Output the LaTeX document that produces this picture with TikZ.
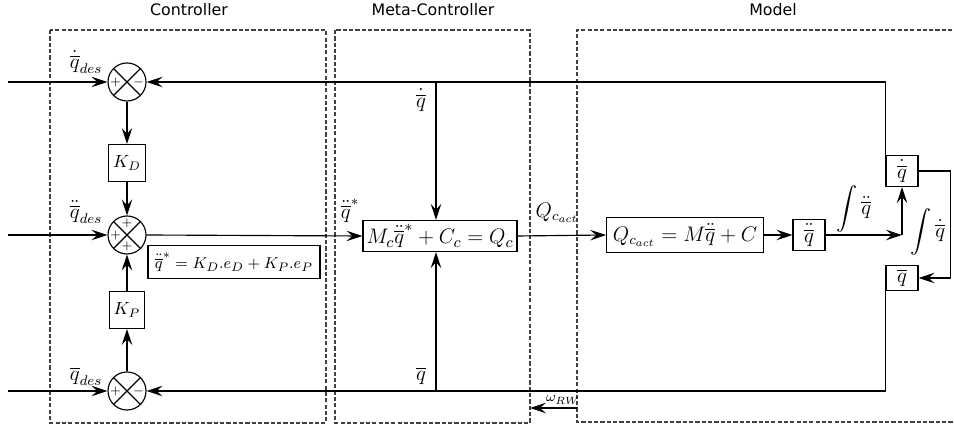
\documentclass[tikz,border=0pt]{standalone}
\usepackage{amsmath}
\usepackage{fontspec}
\setsansfont{DejaVu Sans}
\usetikzlibrary{positioning, arrows.meta, calc}
\tikzset{
  block/.style={rectangle, draw=black, line width=0.65pt, inner sep=2.5pt, text centered, font=\large},
  smallblock/.style={rectangle, draw=black, line width=0.65pt, minimum width=6.4mm, inner sep=2.5pt, font=\large},
  sumnode/.style={circle, draw=black, line width=0.65pt, minimum size=7.6mm, inner sep=0pt,
    path picture={\draw[line width=0.65pt] (path picture bounding box.north west) -- (path picture bounding box.south east)
      (path picture bounding box.north east) -- (path picture bounding box.south west);}},
  sign/.style={font=\fontsize{7}{7}\selectfont, inner sep=0pt},
  group/.style={draw=black!75, dash pattern=on 2.4pt off 1.2pt, line width=0.6pt},
  title/.style={font=\sffamily\fontsize{9}{11}\selectfont},
  lbl/.style={font=\large, inner sep=0pt},
  arrow/.style={line width=0.65pt, ->, >={Stealth[length=3.2mm, width=2.1mm, inset=1.2mm]}}
}

\begin{document}
\begin{tikzpicture}[x=0.2mm, y=-0.2mm]
    \useasboundingbox (0,0) rectangle (954,427);

    % Bloques
    \draw [group] (50,30) rectangle (326,423);
    \draw [group] (335,30) rectangle (530,423);
    \draw [group] (965,30) -- (577,30) -- (577,422) -- (965,422);

    \node (tctrl) [title] at (189,10) {Controller};
    \node (tmeta) [title] at (433,10) {Meta-Controller};
    \node (tmodel) [title] at (773,10) {Model};

    \node (s1) [sumnode] at (127,82) {};
    \node (s2) [sumnode] at (127,235) {};
    \node (s3) [sumnode] at (127,391) {};
    \node (kd) [block, font=\normalsize, minimum width=6.6mm, minimum height=7.4mm] at (127,163) {$K_D$};
    \node (kp) [block, font=\normalsize, minimum width=6.8mm, minimum height=7.4mm] at (127,310) {$K_P$};
    \node (law) [block, font=\fontsize{9.5}{11}\selectfont, inner sep=4pt] at (234,262) {$\ddot{\overline{q}}^* = K_D.e_D + K_P.e_P$};

    \node (meta) [block, font=\fontsize{13}{15}\selectfont, inner sep=2pt] at (440,236) {$M_c\ddot{\overline{q}}^* + C_c = Q_c$};
    \node (model) [block, inner sep=3.5pt] at (685,235) {$Q_{c_{act}} = M\ddot{\overline{q}} + C$};
    \node (qdd) [smallblock] at (809,235) {$\ddot{\overline{q}}$};
    \node (qd) [smallblock] at (902,171) {$\dot{\overline{q}}$};
    \node (qb) [smallblock, inner sep=2pt] at (902,278) {$\overline{q}$};

    % Signos
    \node (p1a) [sign] at ([xshift=-2.3mm]s1.center) {+};
    \node (p1b) [sign] at ([xshift=2.3mm]s1.center) {$-$};
    \node (p2a) [sign] at ([yshift=2.3mm]s2.center) {+};
    \node (p2b) [sign] at ([xshift=-2.3mm]s2.center) {+};
    \node (p2c) [sign] at ([yshift=-2.3mm]s2.center) {+};
    \node (p3a) [sign] at ([xshift=-2.3mm]s3.center) {+};
    \node (p3b) [sign] at ([xshift=2.3mm]s3.center) {$-$};

    % Etiquetas
    \node (lqd) [lbl] at (86,62) {$\dot{\overline{q}}_{des}$};
    \node (lqdd) [lbl] at (86,212) {$\ddot{\overline{q}}_{des}$};
    \node (lqb) [lbl] at (86,376) {$\overline{q}_{des}$};
    \node (lstar) [lbl] at (350,211) {$\ddot{\overline{q}}^*$};
    \node (lmqd) [lbl] at (421,100) {$\dot{\overline{q}}$};
    \node (lmqb) [lbl] at (421,376) {$\overline{q}$};
    \node (lq) [lbl] at (557,213) {$Q_{c_{act}}$};
    \node (lint1) [lbl] at (854,209) {$\displaystyle\int\ddot{\overline{q}}$};
    \node (lint2) [lbl] at (928,232) {$\displaystyle\int\dot{\overline{q}}$};
    \node (lw) [inner sep=0pt, font=\footnotesize] at (563,400) {$\omega_{RW}$};

    \coordinate (in1) at (8,82);
    \coordinate (in2) at (8,235);
    \coordinate (in3) at (8,391);
    \coordinate (w1) at (577,408);
    \coordinate (w2) at (530,408);
    \coordinate (mtop) at ([xshift=-0.8mm]meta.north);
    \coordinate (mbot) at ([xshift=-0.8mm]meta.south);
    \coordinate (tapd) at (mtop |- s1.east);
    \coordinate (tapb) at (mbot |- s3.east);
    \coordinate (jn) at (qd.south |- qdd.east);

    % Flechas
    \draw [arrow] (in1) -- (s1.west);
    \draw [arrow] (in2) -- (s2.west);
    \draw [arrow] (in3) -- (s3.west);
    \draw [arrow] (s1) -- (kd);
    \draw [arrow] (kd) -- (s2);
    \draw [arrow] (s3) -- (kp);
    \draw [arrow] (kp) -- (s2);
    \draw [arrow] (s2.east) -- (meta.west);
    \draw [arrow] (tapd) -- (mtop);
    \draw [arrow] (tapb) -- (mbot);
    \draw [arrow] (meta.east) -- (model.west);
    \draw [arrow] (model.east) -- (qdd.west);
    \draw [arrow] (qdd.east) -- (jn);
    \draw [arrow] (jn) -- (qd.south);
    \draw [arrow] (qd.east) -- ++(32,0) |- (qb.east);
    \draw [arrow] (w1) -- (w2);

    % Realimentacion
    \draw [arrow] (qd.north west) |- (s1.east);
    \draw [arrow] (qb.south west) |- (s3.east);

\end{tikzpicture}
\end{document}
